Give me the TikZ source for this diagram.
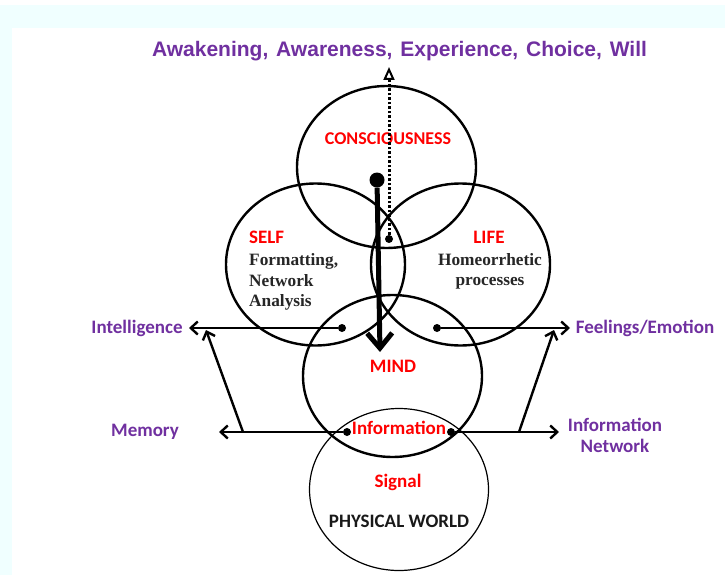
\documentclass[tikz,border=0pt]{standalone}
\usepackage{fontspec}
\setmainfont{Carlito}
\newfontfamily\titlefont{Liberation Sans}
\newfontfamily\serifb{Liberation Serif}
\usetikzlibrary{arrows.meta,shapes.geometric}
\definecolor{bgcyan}{RGB}{240,255,255}
\definecolor{lblpurple}{RGB}{112,48,160}
\begin{document}
\begin{tikzpicture}[x=1pt,y=-1pt,
  ring/.style={draw, line width=2.4pt, ellipse, minimum width=179pt, minimum height=162pt, inner sep=0pt},
  thinring/.style={ring, line width=1.2pt},
  dot/.style={circle, fill=black, inner sep=0pt, minimum size=8pt},
  bigdot/.style={circle, fill=black, inner sep=0pt, minimum size=15pt},
  harrow/.style={line width=2.4pt, -{Straight Barb[length=7pt,width=13pt]}},
  thickarrow/.style={line width=5pt, -{Straight Barb[length=15pt,width=25pt]}},
  dotarrow/.style={line width=3pt, dash pattern=on 2.5pt off 2pt, -{Triangle[open,length=13pt,width=11pt,line width=2pt]}},
  purplab/.style={font=\fontsize{19}{21}\selectfont\bfseries, text=lblpurple, anchor=base, inner sep=0pt},
  redlab/.style={font=\fontsize{19}{21}\selectfont\bfseries, text=red, anchor=base, inner sep=0pt},
  blklab/.style={font=\fontsize{19}{21}\selectfont\bfseries, text=black!90, anchor=base, inner sep=0pt},
  serlab/.style={font=\serifb\bfseries\fontsize{17.3}{20}\selectfont, text=black!85, anchor=base west, inner sep=0pt},
  titlelab/.style={font=\titlefont\bfseries\fontsize{21}{23}\selectfont, text=lblpurple, anchor=base, inner sep=0pt}
]
\useasboundingbox (0,0) rectangle (725,575);
\fill[white] (0,0) rectangle (725,575);
\fill[bgcyan] (0,5) rectangle (725,575);
\fill[white] (12,28) rectangle (725,575);

% circles
\node[ring] (econs) at (386.5,167) {};
\node[ring] (eself) at (315.5,264.5) {};
\node[ring] (elife) at (460.5,264.5) {};
\node[ring] (emind) at (392.5,376) {};
\node[thinring] (ephys) at (399,489.5) {};

% texts
\node[titlelab] (ttl) at (399.5,57) {Awakening,\hspace{2pt} Awareness,\hspace{2pt} Experience,\hspace{2pt} Choice,\hspace{2pt} Will};
\node[redlab, font=\fontsize{18}{20}\selectfont\bfseries] (tcons) at (388,144) {CONSCIOUSNESS};
\node[redlab, anchor=base west] (tself) at (249,243) {SELF};
\node[redlab] (tlife) at (489,243) {LIFE};
\node[serlab] (tform) at (249,265) {Formatting,};
\node[serlab] (tnet) at (249,286) {Network};
\node[serlab] (tana) at (249,306) {Analysis};
\node[serlab, anchor=base] (thom) at (490,265) {Homeorrhetic};
\node[serlab, anchor=base] (tproc) at (490,285) {processes};
\node[redlab] (tmind) at (393,372) {MIND};
\node[redlab] (tinfo) at (399,434) {Information};
\node[redlab] (tsig) at (398,487) {Signal};
\node[blklab] (tphys) at (399,527) {PHYSICAL WORLD};
\node[purplab] (tintel) at (137,333) {Intelligence};
\node[purplab] (tmem) at (145,436) {Memory};
\node[purplab] (tfeel) at (645,333) {Feelings/Emotion};
\node[purplab] (tinfn) at (615,431) {Information};
\node[purplab] (tnetw) at (615,452) {Network};

% dots
\node[dot] (dI) at (342,328) {};
\node[dot] (dF) at (437,328) {};
\node[dot] (dM) at (347,432) {};
\node[dot] (dN) at (451,432) {};
\node[dot] (dC) at (389,239) {};
\node[bigdot] (dB) at (377,180) {};

% arrow ends
\coordinate (tI) at (189,328);
\coordinate (tF) at (570,328);
\coordinate (tMem) at (219,432);
\coordinate (tN) at (559,432);
\coordinate (bL) at (243,432);
\coordinate (dtL) at (206,330);
\coordinate (bR) at (519,432);
\coordinate (dtR) at (554,330);
\coordinate (tTop) at (389,67);
\coordinate (tMind) at (380,352);

% connectors
\draw[harrow] (dI) -- (tI);
\draw[harrow] (dF) -- (tF);
\draw[harrow] (dM) -- (tMem);
\draw[harrow] (dN) -- (tN);
\draw[harrow] (bL) -- (dtL);
\draw[harrow] (bR) -- (dtR);
\draw[dotarrow] (dC) -- (tTop);
\draw[thickarrow] (dB) -- (tMind);
\end{tikzpicture}
\end{document}
